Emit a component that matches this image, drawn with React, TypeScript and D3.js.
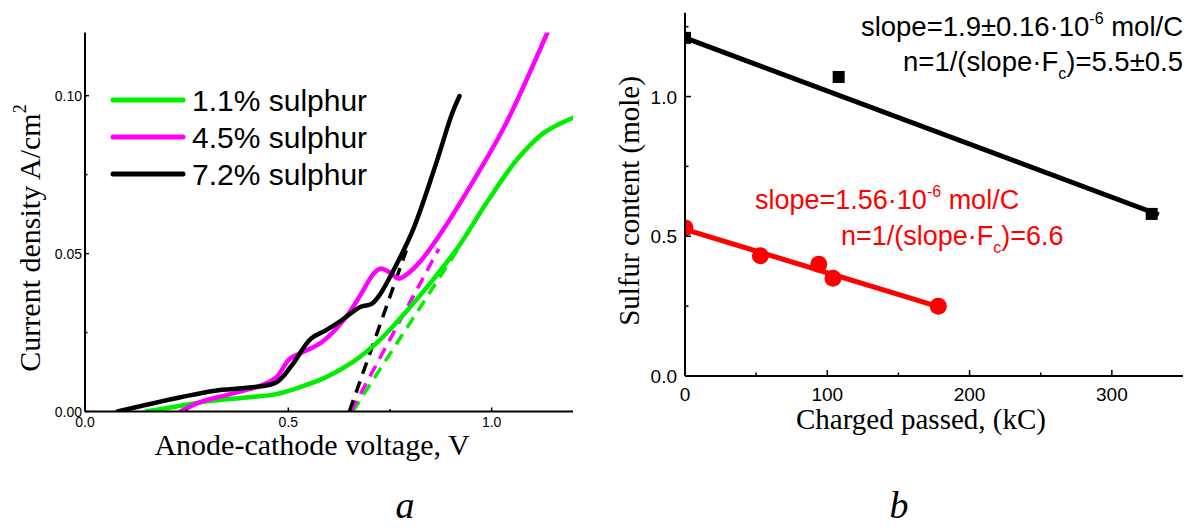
import React from "react";
import * as d3 from "d3";

// ---------- Panel a data (Anode-cathode voltage V, current density A/cm2) ----------
const greenCurve: [number, number][] = [
  [0.15, 0], [0.235, 0.0018], [0.31, 0.0034], [0.404, 0.0045], [0.47, 0.0055], [0.526, 0.0076],
  [0.592, 0.0108], [0.658, 0.0156], [0.724, 0.0225], [0.789, 0.0315], [0.855, 0.0416],
  [0.921, 0.0527], [0.987, 0.066], [1.062, 0.0797], [1.128, 0.0882], [1.2, 0.093],
];
const magentaCurve: [number, number][] = [
  [0.235, 0], [0.282, 0.0029], [0.357, 0.0055], [0.432, 0.0082], [0.47, 0.0108], [0.503, 0.0166],
  [0.536, 0.0188], [0.583, 0.022], [0.639, 0.0294], [0.677, 0.0368], [0.71, 0.0437], [0.728, 0.0453],
  [0.747, 0.0442], [0.771, 0.0421], [0.789, 0.0432], [0.827, 0.0479], [0.883, 0.058], [0.959, 0.0739],
  [1.034, 0.0909], [1.137, 0.12],
];
const blackCurve: [number, number][] = [
  [0.08, 0], [0.235, 0.0045], [0.32, 0.0066], [0.404, 0.0076], [0.47, 0.0092], [0.508, 0.0145],
  [0.555, 0.023], [0.592, 0.0257], [0.63, 0.0288], [0.677, 0.0331], [0.705, 0.0341], [0.724, 0.0368],
  [0.761, 0.0453], [0.808, 0.058], [0.865, 0.0792], [0.902, 0.0941], [0.921, 0.0999],
];
const blackDashed: [number, number][] = [[0.65, 0], [0.79, 0.051]];
const magentaDashed: [number, number][] = [[0.654, 0], [0.87, 0.0515]];
const greenDashed: [number, number][] = [[0.658, 0], [0.92, 0.052]];
const legendLabels = ["1.1% sulphur", "4.5% sulphur", "7.2% sulphur"];
const seriesColors = ["#00ee00", "#ff00ff", "#000000"];
const aXTicks = [0, 0.5, 1.0];
const aXTickLabels = ["0.0", "0.5", "1.0"];
const aXMinor = [0.25, 0.75];
const aYTicks = [0, 0.05, 0.1];
const aYTickLabels = ["0.00", "0.05", "0.10"];
const aYMinor = [0.025, 0.075];

// ---------- Panel b data (charge kC, sulfur mole) ----------
const blackSquares: [number, number][] = [[0, 1.21], [108, 1.07], [328, 0.58]];
const blackFit: [number, number][] = [[0, 1.21], [333, 0.577]];
const redCircles: [number, number][] = [[0, 0.53], [53, 0.43], [94, 0.4], [104, 0.35], [178, 0.25]];
const redFit: [number, number][] = [[0, 0.525], [178, 0.248]];
const bXTicks = [0, 100, 200, 300];
const bXMinor = [50, 150, 250];
const bYTicks = [0, 0.5, 1.0];
const bYTickLabels = ["0.0", "0.5", "1.0"];
const bYMinor = [0.25, 0.75, 1.25];

const SANS = "'Liberation Sans', Arial, sans-serif";
const SERIF = "'Liberation Serif', 'Times New Roman', serif";

export default function App() {
  // Panel a scales
  const xA = d3.scaleLinear().domain([0, 1.2]).range([85, 573]);
  const yA = d3.scaleLinear().domain([0, 0.12]).range([411.5, 32.5]);
  const lineA = d3
    .line<[number, number]>()
    .x((d) => xA(d[0]))
    .y((d) => yA(d[1]))
    .curve(d3.curveCatmullRom.alpha(0.5));
  const straightA = d3
    .line<[number, number]>()
    .x((d) => xA(d[0]))
    .y((d) => yA(d[1]));

  // Panel b scales
  const xB = d3.scaleLinear().domain([0, 350]).range([685, 1183]);
  const yB = d3.scaleLinear().domain([0, 1.3]).range([376, 12.7]);
  const lineB = d3
    .line<[number, number]>()
    .x((d) => xB(d[0]))
    .y((d) => yB(d[1]));

  const curves = [greenCurve, magentaCurve, blackCurve];
  const dashes = [greenDashed, magentaDashed, blackDashed];

  return (
    <svg
      width={1192}
      height={528}
      style={{ position: "absolute", left: 0, top: 0, background: "#fff" }}
    >
      <defs>
        <clipPath id="clipA">
          <rect x={xA(0)} y={yA(0.12)} width={xA(1.2) - xA(0)} height={yA(0) - yA(0.12)} />
        </clipPath>
        <clipPath id="clipB">
          <rect x={xB(0)} y={0} width={xB(350) - xB(0) + 10} height={yB(0)} />
        </clipPath>
      </defs>
      <rect x={0} y={0} width={1192} height={528} fill="#fff" />

      {/* ---------------- Panel a ---------------- */}
      <g clipPath="url(#clipA)">
        {dashes.map((d, i) => (
          <path
            key={"d" + i}
            d={straightA(d) || ""}
            fill="none"
            stroke={seriesColors[i]}
            strokeWidth={3.5}
            strokeDasharray="12 8"
          />
        ))}
        {curves.map((c, i) => (
          <path
            key={"c" + i}
            d={lineA(c) || ""}
            fill="none"
            stroke={seriesColors[i]}
            strokeWidth={4.5}
            strokeLinejoin="round"
            strokeLinecap="round"
          />
        ))}
      </g>
      {/* axes a */}
      <line x1={xA(0)} y1={yA(0.12)} x2={xA(0)} y2={yA(0)} stroke="#000" strokeWidth={2} />
      <line x1={xA(0)} y1={yA(0)} x2={xA(1.2)} y2={yA(0)} stroke="#000" strokeWidth={2} />
      {aXTicks.map((t) => (
        <line key={"axt" + t} x1={xA(t)} x2={xA(t)} y1={yA(0)} y2={yA(0) - 4} stroke="#000" strokeWidth={1.5} />
      ))}
      {aXMinor.map((t) => (
        <line key={"axm" + t} x1={xA(t)} x2={xA(t)} y1={yA(0)} y2={yA(0) - 2.5} stroke="#000" strokeWidth={1.5} />
      ))}
      {aYTicks.map((t) => (
        <line key={"ayt" + t} x1={xA(0)} x2={xA(0) + 4} y1={yA(t)} y2={yA(t)} stroke="#000" strokeWidth={1.5} />
      ))}
      {aYMinor.map((t) => (
        <line key={"aym" + t} x1={xA(0)} x2={xA(0) + 2.5} y1={yA(t)} y2={yA(t)} stroke="#000" strokeWidth={1.5} />
      ))}
      {aXTicks.map((t, i) => (
        <text key={"axl" + t} x={xA(t)} y={427} fontFamily={SANS} fontSize={14} textAnchor="middle" fill="#000">
          {aXTickLabels[i]}
        </text>
      ))}
      {aYTicks.map((t, i) => (
        <text key={"ayl" + t} x={82} y={yA(t) + 5} fontFamily={SANS} fontSize={14} textAnchor="end" fill="#000">
          {aYTickLabels[i]}
        </text>
      ))}
      {/* legend */}
      {legendLabels.map((lab, i) => (
        <g key={"lg" + i}>
          <line x1={113} x2={183} y1={100 + i * 37} y2={100 + i * 37} stroke={seriesColors[i]} strokeWidth={5} strokeLinecap="round" />
          <text x={192} y={111 + i * 37} fontFamily={SANS} fontSize={30} fill="#000">
            {lab}
          </text>
        </g>
      ))}
      {/* axis titles a */}
      <text x={312} y={455} fontFamily={SERIF} fontSize={30} textAnchor="middle" fill="#000">
        Anode-cathode voltage, V
      </text>
      <text
        transform="translate(40,238) rotate(-90)"
        fontFamily={SERIF}
        fontSize={30}
        textAnchor="middle"
        fill="#000"
      >
        Current density A/cm
        <tspan fontSize={18} dy={-14}>2</tspan>
      </text>
      <text x={405} y={518} fontFamily={SERIF} fontSize={38} fontStyle="italic" textAnchor="middle" fill="#000">
        a
      </text>

      {/* ---------------- Panel b ---------------- */}
      <g clipPath="url(#clipB)">
        <path d={lineB(blackFit) || ""} fill="none" stroke="#000" strokeWidth={5} />
        <path d={lineB(redFit) || ""} fill="none" stroke="#ff0000" strokeWidth={5} />
        {blackSquares.map((p, i) => (
          <rect key={"sq" + i} x={xB(p[0]) - 6} y={yB(p[1]) - 6} width={12} height={12} fill="#000" />
        ))}
        {redCircles.map((p, i) => (
          <circle key={"ci" + i} cx={xB(p[0])} cy={yB(p[1])} r={8.5} fill="#ff0000" />
        ))}
      </g>
      <line x1={xB(0)} y1={yB(1.3)} x2={xB(0)} y2={yB(0)} stroke="#000" strokeWidth={2} />
      <line x1={xB(0)} y1={yB(0)} x2={xB(350)} y2={yB(0)} stroke="#000" strokeWidth={2} />
      {bXTicks.map((t) => (
        <line key={"bxt" + t} x1={xB(t)} x2={xB(t)} y1={yB(0)} y2={yB(0) - 6} stroke="#000" strokeWidth={1.5} />
      ))}
      {bXMinor.map((t) => (
        <line key={"bxm" + t} x1={xB(t)} x2={xB(t)} y1={yB(0)} y2={yB(0) - 3.5} stroke="#000" strokeWidth={1.5} />
      ))}
      {bYTicks.map((t) => (
        <line key={"byt" + t} x1={xB(0)} x2={xB(0) + 6} y1={yB(t)} y2={yB(t)} stroke="#000" strokeWidth={1.5} />
      ))}
      {bYMinor.map((t) => (
        <line key={"bym" + t} x1={xB(0)} x2={xB(0) + 3.5} y1={yB(t)} y2={yB(t)} stroke="#000" strokeWidth={1.5} />
      ))}
      {bXTicks.map((t) => (
        <text key={"bxl" + t} x={xB(t)} y={401} fontFamily={SANS} fontSize={19} textAnchor="middle" fill="#000">
          {String(t)}
        </text>
      ))}
      {bYTicks.map((t, i) => (
        <text key={"byl" + t} x={677} y={yB(t) + 7} fontFamily={SANS} fontSize={19} textAnchor="end" fill="#000">
          {bYTickLabels[i]}
        </text>
      ))}
      {/* annotations */}
      <text x={1183} y={36} fontFamily={SANS} fontSize={27.5} textAnchor="end" fill="#000">
        slope=1.9±0.16·10<tspan fontSize={16} dy={-12}>-6</tspan>
        <tspan dy={12}> mol/C</tspan>
      </text>
      <text x={1183} y={71} fontFamily={SANS} fontSize={27.5} textAnchor="end" fill="#000">
        n=1/(slope·F<tspan fontSize={16} dy={8}>c</tspan>
        <tspan dy={-8}>)=5.5±0.5</tspan>
      </text>
      <text x={755} y={209} fontFamily={SANS} fontSize={27} fill="#ff0000">
        slope=1.56·10<tspan fontSize={16} dy={-12}>-6</tspan>
        <tspan dy={12}> mol/C</tspan>
      </text>
      <text x={841} y={245} fontFamily={SANS} fontSize={27} fill="#ff0000">
        n=1/(slope·F<tspan fontSize={16} dy={8}>c</tspan>
        <tspan dy={-8}>)=6.6</tspan>
      </text>
      {/* axis titles b */}
      <text x={921} y={429} fontFamily={SERIF} fontSize={29} textAnchor="middle" fill="#000">
        Charged passed, (kC)
      </text>
      <text
        transform="translate(639,201) rotate(-90)"
        fontFamily={SERIF}
        fontSize={29}
        textAnchor="middle"
        fill="#000"
      >
        Sulfur content (mole)
      </text>
      <text x={899} y={518} fontFamily={SERIF} fontSize={38} fontStyle="italic" textAnchor="middle" fill="#000">
        b
      </text>
    </svg>
  );
}
